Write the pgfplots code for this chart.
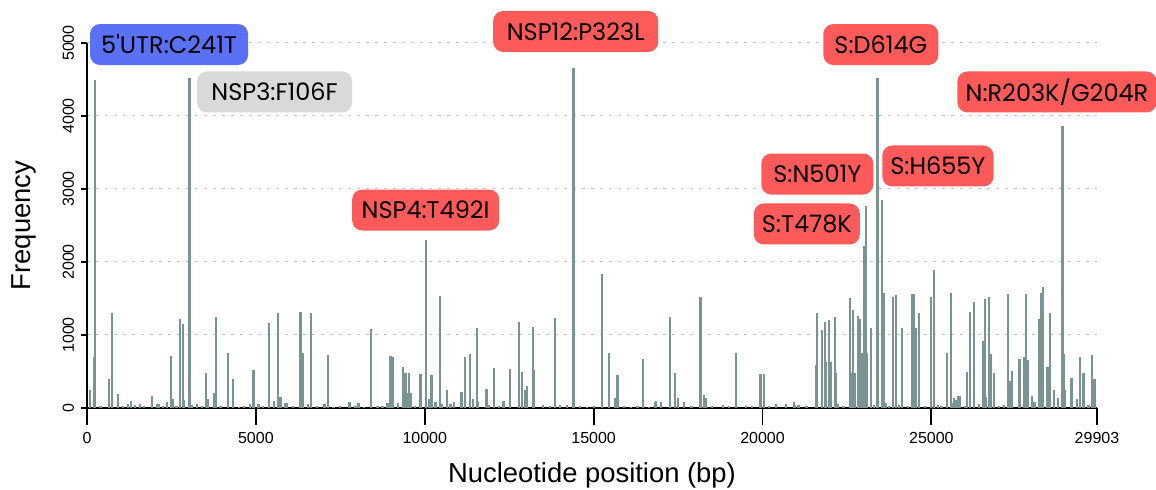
\documentclass[border=0pt]{standalone}
\usepackage{pgfplots}
\pgfplotsset{compat=1.18}
\usepackage{pgfplotstable}
\usepackage{fontspec}
\setmainfont{Liberation Sans}
\newfontfamily\boxfont{Poppins}[Ligatures=TeXOff]

\definecolor{barcol}{HTML}{7A9494}
\definecolor{redlab}{HTML}{FF5A5A}
\definecolor{bluelab}{HTML}{5A70F5}
\definecolor{graylab}{HTML}{D9D9D9}
\definecolor{gridcol}{HTML}{C4C4C4}

% mutation frequency along the genome
\pgfplotstableread{
pos freq
89 247
207 703
241 4490
400 30
652 393
731 1297
928 187
1076 27
1225 55
1294 96
1422 37
1570 50
1698 27
1915 160
2064 50
2133 55
2250 30
2360 87
2478 717
2557 119
2650 25
2755 1219
2834 1146
2883 110
3037 4520
3120 41
3249 59
3400 30
3535 484
3594 119
3762 210
3831 1251
3950 25
4186 758
4325 397
4500 20
4650 30
4819 59
4927 520
5075 50
5200 25
5391 1169
5529 96
5648 1297
5727 155
5865 64
5924 68
6100 30
6319 1310
6398 758
6536 50
6625 1306
6800 25
7030 55
7129 726
7300 20
7500 30
7770 87
7950 25
8036 73
8200 20
8402 1078
8600 30
8750 25
8896 64
8985 717
9054 694
9202 73
9350 557
9429 475
9470 201
9538 475
9577 201
9700 30
9873 466
10035 2300
10120 119
10199 447
10317 87
10456 1534
10500 55
10663 247
10760 50
10871 87
11088 224
11196 703
11335 740
11424 123
11543 1091
11580 78
11828 256
11900 37
12055 552
12200 25
12332 96
12529 530
12787 1173
12885 489
12964 247
13024 301
13202 1105
13240 520
13500 41
13700 25
13862 1237
14000 41
14200 41
14405 4654
14600 25
14800 20
15000 25
15245 1831
15453 753
15640 142
15708 452
15900 25
16100 20
16300 25
16469 667
16650 20
16810 82
16850 96
17000 87
17259 1242
17417 484
17500 132
17680 87
17900 25
18166 1516
18260 178
18330 132
18500 25
18830 41
19000 25
19223 753
19500 25
19700 30
19943 466
20053 461
20200 25
20398 55
20694 50
20931 78
20970 45
21050 45
21090 45
21300 30
21580 589
21610 1297
21761 1068
21840 1183
21889 635
21978 1205
22028 635
22135 1251
22185 475
22240 55
22400 30
22580 1502
22620 475
22680 1342
22728 475
22817 1265
22876 1215
22935 749
22995 2219
23063 2767
23104 749
23202 1091
23300 40
23403 4520
23528 2849
23598 1571
23660 64
23750 30
23853 1516
23963 1543
24050 40
24140 1091
24300 30
24428 1562
24476 1562
24535 1091
24644 1297
24800 30
24999 1525
25088 1890
25200 40
25300 30
25464 749
25583 1571
25620 64
25680 132
25740 110
25800 169
25858 169
26000 30
26056 489
26134 1311
26264 1448
26400 50
26519 922
26578 1489
26620 155
26708 1525
26767 735
26865 475
27000 30
27150 40
27259 1562
27310 370
27390 511
27606 676
27754 694
27804 1562
27860 658
27980 169
28050 78
28178 1215
28258 1571
28308 1662
28436 566
28515 1297
28622 247
28740 132
28881 3868
28920 735
28960 247
29147 406
29300 123
29404 703
29502 475
29650 41
29760 721
29828 393
}\mutations

\begin{document}
\begin{tikzpicture}[
  lab/.style={font=\boxfont\fontsize{12}{14}\selectfont, text=black,
    rounded corners=5pt, minimum height=20.5pt, inner xsep=4pt, inner ysep=0pt},
]
\begin{axis}[
  scale only axis,
  width=505pt, height=182.5pt,
  xmin=0, xmax=29903, ymin=0, ymax=5000,
  clip=false,
  axis x line*=bottom, axis y line*=left,
  axis line style={line width=0.9pt, black},
  tick align=outside,
  major tick length=3pt,
  every tick/.style={line width=0.9pt, black},
  xtick=\empty,
  extra x ticks={0,5000,10000,15000,20000,25000,29903},
  extra x tick labels={0,5000,10000,15000,20000,25000,29903},
  extra x tick style={grid=none, major tick length=8.5pt},
  ytick={0,1000,2000,3000,4000,5000},
  ymajorgrids,
  grid style={gridcol, dash pattern=on 1.5pt off 3pt, line width=0.5pt},
  /pgf/number format/1000 sep={},
  /pgf/number format/assume math mode=true,
  tick label style={font=\fontsize{8}{9}\selectfont},
  yticklabel style={rotate=90, anchor=south},
  xlabel={Nucleotide position (bp)},
  ylabel={Frequency},
  label style={font=\fontsize{13.7}{16}\selectfont},
  xlabel style={at={(axis description cs:0.5,-0.1836)}, anchor=center},
  ylabel style={at={(axis description cs:-0.0624,0.5)}, anchor=center},
]
\addplot[ycomb, barcol, line width=1.1pt, mark=none] table[x=pos, y=freq] {\mutations};

\node[lab, fill=bluelab, minimum width=79pt] at (axis cs:2429,4979) {5'UTR:C241T};
\node[lab, fill=graylab, minimum width=77.5pt] at (axis cs:5554,4329) {NSP3:F106F};
\node[lab, fill=redlab, minimum width=73.5pt] at (axis cs:10027,2712) {NSP4:T492I};
\node[lab, fill=redlab, minimum width=82.5pt] at (axis cs:14470,5158) {NSP12:P323L};
\node[lab, fill=redlab, minimum width=57.5pt] at (axis cs:23504,4979) {S:D614G};
\node[lab, fill=redlab, minimum width=99.5pt] at (axis cs:28718,4329) {N:R203K/G204R};
\node[lab, fill=redlab, minimum width=56pt] at (axis cs:21623,3205) {S:N501Y};
\node[lab, fill=redlab, minimum width=55.5pt] at (axis cs:25193,3315) {S:H655Y};
\node[lab, fill=redlab, minimum width=52.5pt] at (axis cs:21312,2521) {S:T478K};

\coordinate (bbsw) at (rel axis cs:-0.08614,-0.22466);
\coordinate (bbne) at (rel axis cs:1.05842,1.11781);
\end{axis}
\pgfresetboundingbox
\path (bbsw) rectangle (bbne);
\end{tikzpicture}
\end{document}
